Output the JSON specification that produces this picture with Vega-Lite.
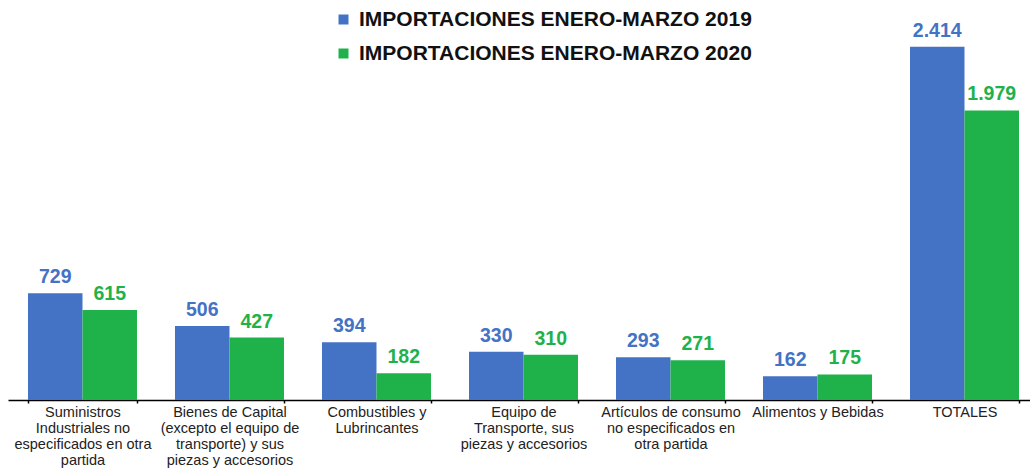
{
  "$schema": "https://vega.github.io/schema/vega-lite/v6.json",
  "autosize": {"type": "none"},
  "width": 1022,
  "height": 395,
  "padding": {"left": 8, "top": 5, "right": 0, "bottom": 70},
  "background": "white",
  "config": {
    "view": {"stroke": null},
    "font": "Liberation Sans",
    "locale": {"number": {"decimal": ",", "thousands": ".", "grouping": [3], "currency": ["$", ""]}}
  },
  "data": {
    "values": [
      {"cat": "Suministros|Industriales no|especificados en otra|partida", "serie": "IMPORTACIONES ENERO-MARZO 2019", "valor": 729},
      {"cat": "Suministros|Industriales no|especificados en otra|partida", "serie": "IMPORTACIONES ENERO-MARZO 2020", "valor": 615},
      {"cat": "Bienes de Capital|(excepto el equipo de|transporte) y sus|piezas y accesorios", "serie": "IMPORTACIONES ENERO-MARZO 2019", "valor": 506},
      {"cat": "Bienes de Capital|(excepto el equipo de|transporte) y sus|piezas y accesorios", "serie": "IMPORTACIONES ENERO-MARZO 2020", "valor": 427},
      {"cat": "Combustibles y|Lubrincantes", "serie": "IMPORTACIONES ENERO-MARZO 2019", "valor": 394},
      {"cat": "Combustibles y|Lubrincantes", "serie": "IMPORTACIONES ENERO-MARZO 2020", "valor": 182},
      {"cat": "Equipo de|Transporte, sus|piezas y accesorios", "serie": "IMPORTACIONES ENERO-MARZO 2019", "valor": 330},
      {"cat": "Equipo de|Transporte, sus|piezas y accesorios", "serie": "IMPORTACIONES ENERO-MARZO 2020", "valor": 310},
      {"cat": "Artículos de consumo|no especificados en|otra partida", "serie": "IMPORTACIONES ENERO-MARZO 2019", "valor": 293},
      {"cat": "Artículos de consumo|no especificados en|otra partida", "serie": "IMPORTACIONES ENERO-MARZO 2020", "valor": 271},
      {"cat": "Alimentos y Bebidas", "serie": "IMPORTACIONES ENERO-MARZO 2019", "valor": 162},
      {"cat": "Alimentos y Bebidas", "serie": "IMPORTACIONES ENERO-MARZO 2020", "valor": 175},
      {"cat": "TOTALES", "serie": "IMPORTACIONES ENERO-MARZO 2019", "valor": 2414},
      {"cat": "TOTALES", "serie": "IMPORTACIONES ENERO-MARZO 2020", "valor": 1979}
    ]
  },
  "encoding": {
    "x": {
      "field": "cat",
      "type": "nominal",
      "sort": null,
      "scale": {"paddingInner": 0.2585, "paddingOuter": 0.1054, "align": 0.645},
      "axis": {
        "title": null,
        "labelAngle": 0,
        "labelExpr": "split(datum.label, '|')",
        "labelFont": "Liberation Sans",
        "labelFontSize": 14.5,
        "labelLineHeight": 16.3,
        "labelColor": "#222222",
        "labelBaseline": "top",
        "labelPadding": 2,
        "labelLimit": 0,
        "labelOverlap": false,
        "tickBand": "extent",
        "tickSize": 3,
        "tickColor": "#000000",
        "tickWidth": 1.5,
        "domainColor": "#000000",
        "domainWidth": 1.5,
        "grid": false
      }
    },
    "xOffset": {"field": "serie", "type": "nominal"},
    "y": {
      "field": "valor",
      "type": "quantitative",
      "scale": {"domain": [0, 2700], "nice": false},
      "axis": null
    }
  },
  "layer": [
    {
      "mark": {"type": "bar"},
      "encoding": {
        "color": {
          "field": "serie",
          "type": "nominal",
          "scale": {"range": ["#4472C4", "#1FB24B"]},
          "legend": {
            "title": null,
            "orient": "none",
            "legendX": 325,
            "legendY": 4,
            "direction": "vertical",
            "symbolType": "square",
            "symbolSize": 100,
            "symbolStrokeWidth": 0,
            "labelFont": "Liberation Sans",
            "labelFontSize": 21,
            "labelFontWeight": "bold",
            "labelColor": "#111111",
            "labelOffset": 5,
            "labelLimit": 0,
            "rowPadding": 12,
            "padding": 0
          }
        }
      }
    },
    {
      "mark": {"type": "text", "baseline": "alphabetic", "dy": -10, "fontSize": 19.5, "fontWeight": "bold", "font": "Liberation Sans"},
      "encoding": {
        "text": {"field": "valor", "type": "quantitative", "format": ",d"},
        "color": {"field": "serie", "type": "nominal", "legend": null}
      }
    }
  ]
}
